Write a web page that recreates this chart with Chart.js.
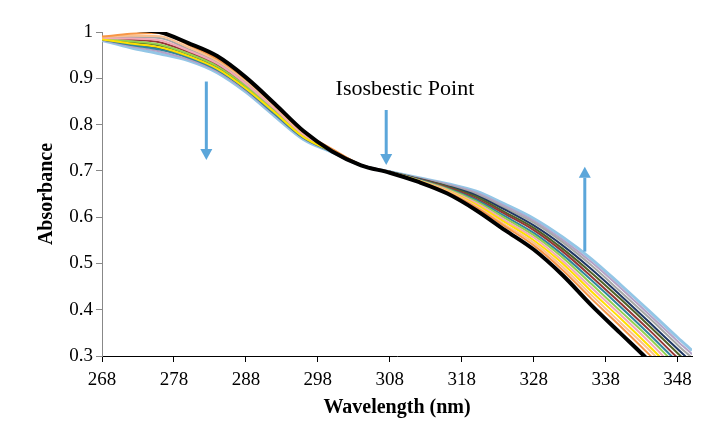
<!DOCTYPE html>
<html>
<head>
<meta charset="utf-8">
<title>Absorbance spectra</title>
<script src="https://cdn.jsdelivr.net/npm/chart.js@4.4.1/dist/chart.umd.min.js"></script>
<style>
  html, body { margin: 0; padding: 0; background: #fff; }
  #wrap { width: 722px; height: 433px; }
</style>
</head>
<body>
<div id="wrap"><canvas id="grafico" width="722" height="433"></canvas></div>
<script>
// wavelengths (nm) where each scan is read
const wavelengths = [268, 272, 276, 280, 284, 288, 292, 296, 300, 304, 308, 312, 316, 320, 324, 328, 332, 336, 340, 344, 348, 350];

// absorbance of each scan
const scanBlack    = [1.010, 1.005, 1.000, 0.976, 0.948, 0.902, 0.845, 0.786, 0.742, 0.712, 0.696, 0.676, 0.651, 0.615, 0.572, 0.530, 0.475, 0.410, 0.350, 0.290, 0.225, 0.195];
const scanOrange   = [0.990, 0.996, 0.998, 0.972, 0.942, 0.898, 0.843, 0.784, 0.747, 0.713, 0.697, 0.677, 0.654, 0.621, 0.580, 0.539, 0.486, 0.424, 0.365, 0.304, 0.240, 0.210];
const scanPeach    = [0.989, 0.992, 0.991, 0.967, 0.938, 0.894, 0.839, 0.782, 0.746, 0.713, 0.697, 0.678, 0.656, 0.624, 0.584, 0.545, 0.493, 0.432, 0.373, 0.314, 0.250, 0.221];
const scanYellow   = [0.984, 0.975, 0.967, 0.948, 0.921, 0.878, 0.826, 0.773, 0.742, 0.712, 0.697, 0.679, 0.657, 0.627, 0.589, 0.550, 0.500, 0.440, 0.382, 0.322, 0.260, 0.230];
const scanPink     = [0.987, 0.986, 0.982, 0.960, 0.932, 0.888, 0.834, 0.778, 0.745, 0.713, 0.698, 0.679, 0.659, 0.631, 0.593, 0.556, 0.506, 0.448, 0.390, 0.331, 0.269, 0.240];
const scanLime     = [0.986, 0.980, 0.973, 0.953, 0.926, 0.883, 0.829, 0.775, 0.743, 0.712, 0.697, 0.680, 0.661, 0.634, 0.598, 0.561, 0.513, 0.456, 0.398, 0.340, 0.278, 0.249];
const scanTeal     = [0.984, 0.972, 0.962, 0.945, 0.918, 0.876, 0.823, 0.771, 0.741, 0.712, 0.698, 0.681, 0.662, 0.637, 0.602, 0.566, 0.519, 0.464, 0.407, 0.348, 0.287, 0.258];
const scanDarkRed  = [0.986, 0.983, 0.978, 0.957, 0.929, 0.885, 0.832, 0.777, 0.744, 0.713, 0.697, 0.682, 0.664, 0.640, 0.607, 0.572, 0.526, 0.472, 0.415, 0.357, 0.296, 0.268];
const scanOlive    = [0.985, 0.978, 0.971, 0.952, 0.924, 0.881, 0.828, 0.774, 0.743, 0.712, 0.698, 0.682, 0.666, 0.644, 0.611, 0.577, 0.532, 0.480, 0.424, 0.366, 0.306, 0.277];
const scanNavy     = [0.984, 0.974, 0.964, 0.946, 0.920, 0.877, 0.824, 0.772, 0.742, 0.712, 0.697, 0.683, 0.667, 0.647, 0.616, 0.582, 0.539, 0.488, 0.432, 0.374, 0.315, 0.286];
const scanGray     = [0.988, 0.989, 0.987, 0.963, 0.935, 0.891, 0.837, 0.780, 0.745, 0.713, 0.698, 0.684, 0.669, 0.650, 0.620, 0.588, 0.546, 0.496, 0.440, 0.383, 0.324, 0.296];
const scanLavender = [0.983, 0.969, 0.958, 0.941, 0.915, 0.873, 0.821, 0.770, 0.741, 0.712, 0.698, 0.684, 0.671, 0.653, 0.624, 0.592, 0.551, 0.503, 0.448, 0.390, 0.332, 0.304];
const scanSky      = [0.982, 0.966, 0.953, 0.938, 0.912, 0.870, 0.818, 0.768, 0.740, 0.712, 0.698, 0.685, 0.672, 0.656, 0.628, 0.597, 0.557, 0.510, 0.455, 0.398, 0.340, 0.312];

// tick labels
const xTicks = [268, 278, 288, 298, 308, 318, 328, 338, 348];
const yTicks = [0.3, 0.4, 0.5, 0.6, 0.7, 0.8, 0.9, 1];

// arrows and note (data units)
const arrowX    = [282.5, 307.5, 335.1];
const arrowFrom = [0.893, 0.8315, 0.5255];
const arrowTo   = [0.7235, 0.7127, 0.709];
const noteText  = 'Isosbestic Point';
const noteX = 310.1;
const noteY = 0.877;

const FONT = '"Liberation Serif", "Times New Roman", serif';

function puntos(valores) {
    return valores.map((v, i) => ({ x: wavelengths[i], y: v }));
}

const series = [
    { data: scanBlack, color: '#000000', width: 4 },
    { data: scanOrange, color: '#F79646', width: 2 },
    { data: scanPeach, color: '#FAC090', width: 2 },
    { data: scanYellow, color: '#FFE000', width: 2 },
    { data: scanPink, color: '#F2A7B8', width: 2 },
    { data: scanLime, color: '#92D050', width: 2 },
    { data: scanTeal, color: '#31859C', width: 2 },
    { data: scanDarkRed, color: '#953735', width: 2 },
    { data: scanOlive, color: '#4F6228', width: 2 },
    { data: scanNavy, color: '#1F3864', width: 2 },
    { data: scanGray, color: '#A6A6A6', width: 2 },
    { data: scanLavender, color: '#B3A2C7', width: 2 },
    { data: scanSky, color: '#93C6E6', width: 3 }
];

const flechas = {
    id: 'flechas',
    afterDatasetsDraw(chart) {
        const ctx = chart.ctx;
        const sx = chart.scales.x, sy = chart.scales.y;
        ctx.save();
        ctx.strokeStyle = '#5BA6DA';
        ctx.fillStyle = '#5BA6DA';
        ctx.lineWidth = 3;
        for (let i = 0; i < arrowX.length; i++) {
            const px = sx.getPixelForValue(arrowX[i]);
            const y0 = sy.getPixelForValue(arrowFrom[i]);
            const y1 = sy.getPixelForValue(arrowTo[i]);
            const dir = y1 > y0 ? 1 : -1;
            const head = 11;
            ctx.beginPath();
            ctx.moveTo(px, y0);
            ctx.lineTo(px, y1 - dir * head);
            ctx.stroke();
            ctx.beginPath();
            ctx.moveTo(px, y1);
            ctx.lineTo(px - 6, y1 - dir * head);
            ctx.lineTo(px + 6, y1 - dir * head);
            ctx.closePath();
            ctx.fill();
        }
        // texto de la anotación
        ctx.fillStyle = '#000';
        ctx.font = '22px ' + FONT;
        ctx.textAlign = 'center';
        ctx.textBaseline = 'middle';
        ctx.fillText(noteText, sx.getPixelForValue(noteX), sy.getPixelForValue(noteY));
        ctx.restore();
    }
};

new Chart(document.getElementById('grafico').getContext('2d'), {
    type: 'line',
    data: {
        datasets: series.map(s => ({
            data: puntos(s.data),
            borderColor: s.color,
            borderWidth: s.width,
            pointRadius: 0,
            fill: false,
            cubicInterpolationMode: 'monotone'
        }))
    },
    options: {
        responsive: false,
        animation: false,
        layout: { padding: { left: 0, right: 30, top: 32, bottom: 0 } },
        plugins: {
            legend: { display: false },
            tooltip: { enabled: false }
        },
        scales: {
            x: {
                type: 'linear',
                min: 268,
                max: 350,
                afterBuildTicks: s => { s.ticks = xTicks.map(v => ({ value: v })); },
                afterFit: s => { s.height = 77; },
                grid: { drawOnChartArea: false, drawTicks: true, tickLength: 6, color: '#000' },
                border: { color: '#000', width: 1 },
                ticks: { color: '#000', font: { family: FONT, size: 19 }, padding: 7, maxRotation: 0 },
                title: {
                    display: true,
                    text: 'Wavelength (nm)',
                    color: '#000',
                    font: { family: FONT, size: 20, weight: 'bold' },
                    padding: { top: 0, bottom: 13 }
                }
            },
            y: {
                min: 0.3,
                max: 1,
                afterBuildTicks: s => { s.ticks = yTicks.map(v => ({ value: v })); },
                afterFit: s => { s.width = 102; },
                grid: { drawOnChartArea: false, drawTicks: true, tickLength: 6, color: '#888' },
                border: { color: '#888', width: 1 },
                ticks: {
                    color: '#000',
                    font: { family: FONT, size: 19 },
                    padding: 3,
                    callback: v => (v === 1 ? '1' : v.toFixed(1))
                },
                title: {
                    display: true,
                    text: 'Absorbance',
                    color: '#000',
                    font: { family: FONT, size: 20, weight: 'bold' },
                    padding: { top: 35, bottom: 0 }
                }
            }
        }
    },
    plugins: [flechas]
});
</script>
</body>
</html>
